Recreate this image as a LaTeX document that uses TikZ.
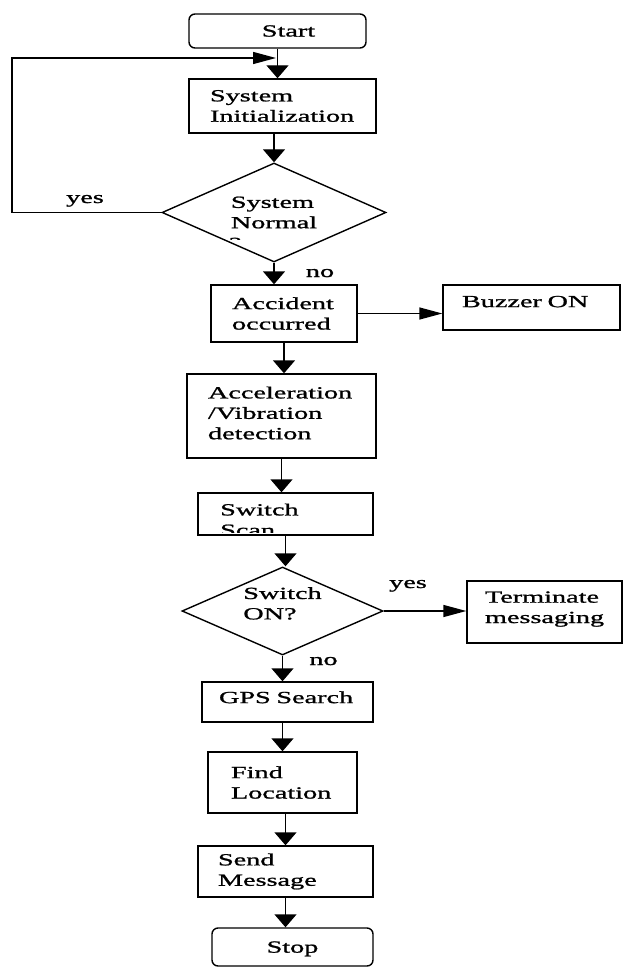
\documentclass[tikz,border=0pt]{standalone}
\usepackage{fontspec}
\setmainfont{Liberation Serif}[FakeStretch=1.66,FakeBold=1.2]
\usetikzlibrary{arrows.meta,shapes.geometric,positioning}
\hyphenpenalty=10000
\newcommand\flowfont{\fontsize{17pt}{20.4pt}\selectfont}
\tikzset{stepbox/.style={draw=black,line width=1.4pt,rectangle,inner ysep=0pt,align=left,font=\flowfont},termbox/.style={stepbox,rounded corners=6pt,align=center},decision/.style={draw=black,line width=1.4pt,diamond,inner sep=0pt,align=left,font=\flowfont},flowtext/.style={inner sep=0pt,align=left,font=\flowfont},flowlabel/.style={inner sep=0pt,font=\flowfont},arrdown/.style={line width=1.4pt,-{Triangle[length=13pt,width=22pt]}},arrright/.style={line width=1.4pt,-{Triangle[length=23pt,width=12pt]}}}

\begin{document}
\begin{tikzpicture}[x=1pt,y=-1pt]
\useasboundingbox (0,0) rectangle (623,968);
\node[termbox,minimum width=177pt,minimum height=34pt] (start) at (277.5,31) {\hspace*{22pt}Start};
\node[stepbox,text width=145pt,inner xsep=21pt,minimum height=54pt] (init) at (282.5,106) {System\\Initialization};
\node[decision,shape aspect=2.26,minimum width=224pt,minimum height=99pt] (check) at (274,212.5) {System\\Normal};
\node[stepbox,text width=104pt,inner xsep=21pt,minimum height=57pt] (accident) at (284,313.5) {Accident\\occurred};
\node[stepbox,text width=139pt,inner xsep=19pt,minimum height=45pt,text depth=12pt] (buzzer) at (531.5,307.5) {Buzzer ON};
\node[stepbox,text width=147pt,inner xsep=21pt,minimum height=84pt,text depth=47pt] (accel) at (281.5,416) {Acceleration\\/Vibration\\detection};
\node[stepbox,minimum width=175pt,minimum height=42pt] (scan) at (285.5,514) {};
\node[decision,shape aspect=2.28,minimum width=201pt,minimum height=88pt,text height=17pt] (switch) at (282.5,611) {Switch\\ON?};
\node[stepbox,text width=119pt,inner xsep=18pt,minimum height=62pt,text depth=30pt] (terminate) at (544.5,612) {Terminate\\messaging};
\node[stepbox,text width=137pt,inner xsep=17pt,minimum height=40pt,text depth=9.6pt] (gps) at (287.5,702) {GPS Search};
\node[stepbox,text width=103pt,inner xsep=23pt,minimum height=61pt] (find) at (282.5,782.5) {Find\\Location};
\node[stepbox,text width=135pt,inner xsep=20pt,minimum height=51pt] (send) at (285.5,871.5) {Send\\Message};
\node[termbox,minimum width=161pt,minimum height=38pt,text depth=0pt] (stop) at (292.5,947) {Stop};
\begin{scope}
\clip (scan.north west) rectangle ([yshift=3pt]scan.south east);
\node[flowtext,anchor=north west] (scantext) at (220,503.4) {Switch\\Scan};
\end{scope}
\begin{scope}
\clip (200,236) rectangle (300,240);
\node[flowtext,anchor=base west] (checkq) at (229,249) {?};
\end{scope}
\node[flowlabel,anchor=base] (yes1) at (85,203) {yes};
\node[flowlabel,anchor=base] (no1) at (320,277) {no};
\node[flowlabel,anchor=base] (yes2) at (408,588) {yes};
\node[flowlabel,anchor=base] (no2) at (323.5,665) {no};
\coordinate (corner) at (12,58);
\coordinate (merge) at (276,58);
\draw[arrdown] (start.south) -- (start.south |- init.north);
\draw[arrdown] (init.south -| check.north) -- (check.north);
\draw[arrright] (check.west) -| (corner) -- (merge);
\draw[arrdown] (check.south) -- (check.south |- accident.north);
\draw[arrright] (accident.east) -- (accident.east -| buzzer.west);
\draw[arrdown] (accident.south) -- (accident.south |- accel.north);
\draw[arrdown] (accel.south) -- (accel.south |- scan.north);
\draw[arrdown] (scan.south) -- (scan.south |- switch.north);
\draw[arrright] (switch.east) -- (switch.east -| terminate.west);
\draw[arrdown] (switch.south) -- (switch.south |- gps.north);
\draw[arrdown] (gps.south -| find.north) -- (find.north);
\draw[arrdown] (find.south -| send.north) -- (send.north);
\draw[arrdown] (send.south) -- (send.south |- stop.north);
\end{tikzpicture}
\end{document}
